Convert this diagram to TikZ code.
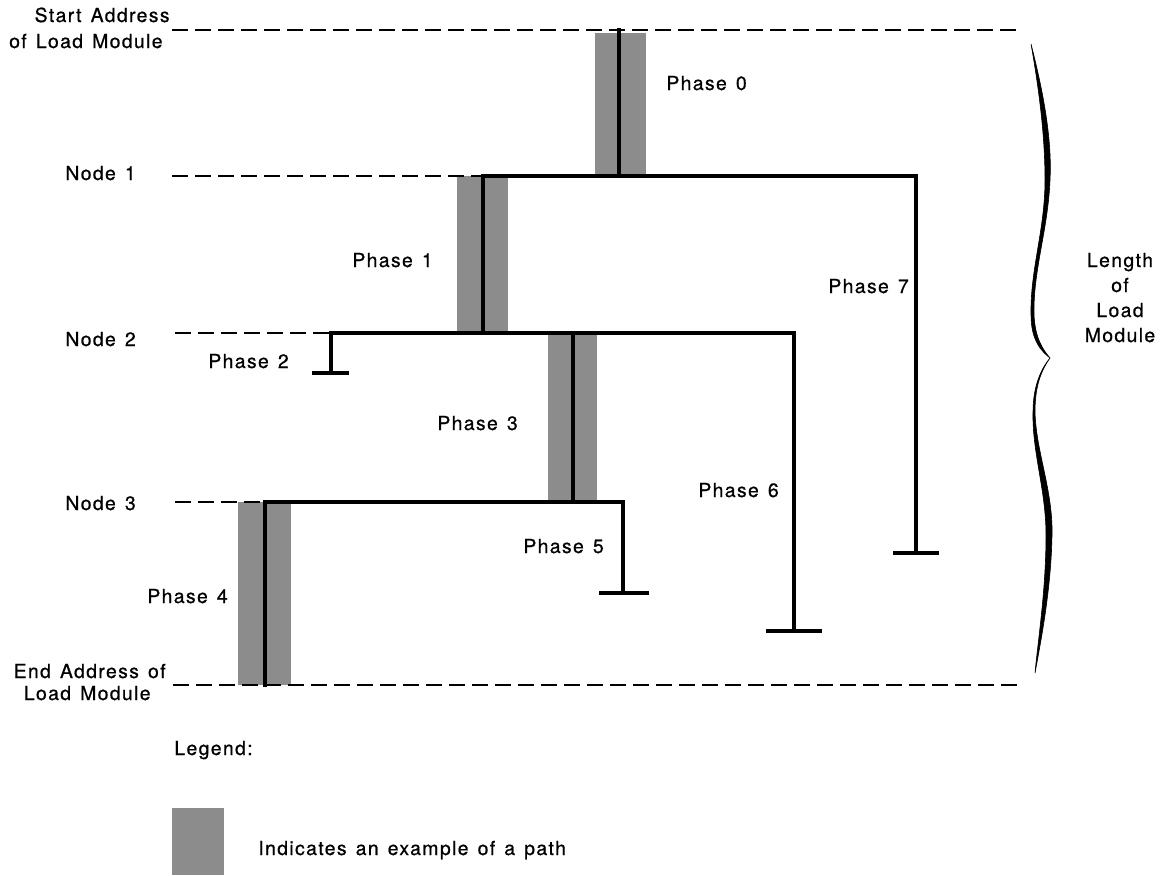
\documentclass[tikz,border=0pt]{standalone}
\usepackage{fontspec}
\setmainfont{TeX Gyre Heros}[LetterSpace=7,WordSpace=1.35,FakeBold=0.7]
\begin{document}
\begin{tikzpicture}[x=0.5pt,y=-0.5pt,
  lbl/.style={inner sep=0pt,font=\fontsize{9.7}{12.5}\selectfont},
  guide/.style={line width=1pt,dash pattern=on 8pt off 3.5pt},
  branch/.style={line width=1.8pt,line cap=rect},
  pathband/.style={fill=black!45,draw=none},
  bracefill/.style={fill=black,draw=black,line width=0.3pt}]
\useasboundingbox (0,0) rectangle (1160,875);

% highlighted example path (drawn first, below the tree lines)
\fill[pathband] (595,33) rectangle (646,176);
\fill[pathband] (457,176) rectangle (508,333);
\fill[pathband] (548,333) rectangle (597,502);
\fill[pathband] (238,502) rectangle (291,685);

% junctions and end points of the overlay tree
\coordinate (start) at (619,30);
\coordinate (n1a) at (483,176);
\coordinate (n1b) at (619,176);
\coordinate (n1c) at (916,176);
\coordinate (p7end) at (916,553);
\coordinate (p7l) at (895,553);
\coordinate (p7r) at (937,553);
\coordinate (n2a) at (331,333);
\coordinate (n2b) at (483,333);
\coordinate (n2c) at (573,333);
\coordinate (n2d) at (794,333);
\coordinate (p2end) at (331,373);
\coordinate (p2l) at (314,373);
\coordinate (p2r) at (347,373);
\coordinate (p6end) at (794,631);
\coordinate (p6l) at (768,631);
\coordinate (p6r) at (820,631);
\coordinate (n3a) at (265,502);
\coordinate (n3b) at (573,502);
\coordinate (n3c) at (623,502);
\coordinate (p5end) at (623,593);
\coordinate (p5l) at (601,593);
\coordinate (p5r) at (647,593);
\coordinate (stop) at (265,685);

% guide lines
\coordinate (g0l) at (172,30);
\coordinate (g0r) at (1017,30);
\coordinate (g1l) at (172,176);
\coordinate (g2l) at (175,333);
\coordinate (g3l) at (175,502);
\coordinate (g4l) at (173,685);
\coordinate (g4r) at (1017,685);
\draw[guide] (g0l) -- (g0r);
\draw[guide] (g1l) -- (n1a);
\draw[guide] (g2l) -- (n2a);
\draw[guide] (g3l) -- (n3a);
\draw[guide] (g4l) -- (g4r);

% tree of phases
\draw[branch] (start) -- (n1b);
\draw[branch] (n1a) -- (n1c) -- (p7end);
\draw[branch] (p7l) -- (p7r);
\draw[branch] (n1a) -- (n2b);
\draw[branch] (p2end) -- (n2a) -- (n2d) -- (p6end);
\draw[branch] (p2l) -- (p2r);
\draw[branch] (p6l) -- (p6r);
\draw[branch] (n2c) -- (n3b);
\draw[branch] (stop) -- (n3a) -- (n3c) -- (p5end);
\draw[branch] (p5l) -- (p5r);

% left-hand labels
\node[lbl,anchor=base east] (sa1) at (170,22) {Start Address};
\node[lbl,anchor=base east] (sa2) at (163,48) {of Load Module};
\node[lbl,anchor=base west] (nd1) at (65,180) {Node 1};
\node[lbl,anchor=base west] (nd2) at (65,346) {Node 2};
\node[lbl,anchor=base west] (nd3) at (65,510) {Node 3};
\node[lbl,anchor=base east] (ea1) at (166,678) {End Address of};
\node[lbl,anchor=base east] (ea2) at (151,700) {Load Module};

% phase labels
\node[lbl,anchor=base west] (ph0) at (666,90) {Phase 0};
\node[lbl,anchor=base west] (ph1) at (352,267) {Phase 1};
\node[lbl,anchor=base west] (ph2) at (208,368) {Phase 2};
\node[lbl,anchor=base west] (ph3) at (437,430) {Phase 3};
\node[lbl,anchor=base west] (ph4) at (147,603) {Phase 4};
\node[lbl,anchor=base west] (ph5) at (523,553) {Phase 5};
\node[lbl,anchor=base west] (ph6) at (698,497) {Phase 6};
\node[lbl,anchor=base west] (ph7) at (828,293) {Phase 7};

% brace spanning the whole module
\fill[bracefill] (1031,44)
  .. controls (1044,95) and (1052,140) .. (1050,180)
  .. controls (1048,230) and (1033,270) .. (1034,315)
  .. controls (1035,338) and (1043,350) .. (1050,358)
  .. controls (1041,351) and (1031,340) .. (1031,315)
  .. controls (1030,270) and (1045,230) .. (1045,180)
  .. controls (1045,140) and (1040,95) .. (1031,44) -- cycle;
\fill[bracefill] (1050,358)
  .. controls (1040,372) and (1035,388) .. (1035,412)
  .. controls (1036,452) and (1053,490) .. (1052,535)
  .. controls (1051,590) and (1041,640) .. (1035,673)
  .. controls (1038,640) and (1046,590) .. (1046,535)
  .. controls (1046,490) and (1032,452) .. (1033,412)
  .. controls (1033,388) and (1040,370) .. (1050,358) -- cycle;
\node[lbl,align=center,anchor=base] (len) at (1120,342) {Length\\of\\Load\\Module};

% legend
\node[lbl,anchor=base west] (leg) at (174,755) {Legend:};
\fill[pathband] (172,808) rectangle (224,875);
\node[lbl,anchor=base west] (legtxt) at (258,855) {Indicates an example of a path};
\end{tikzpicture}
\end{document}
